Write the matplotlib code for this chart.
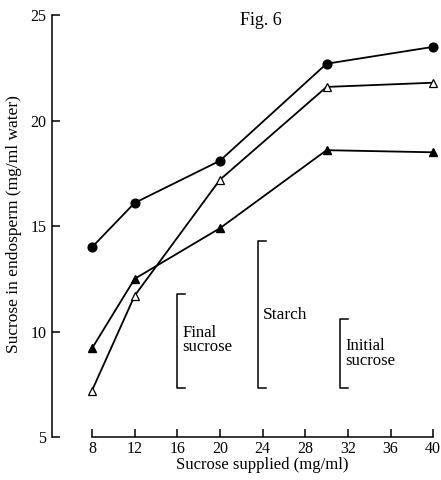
import matplotlib
matplotlib.use("Agg")
import matplotlib.pyplot as plt

supplied = [8, 12, 20, 30, 40]
circles = [14.0, 16.1, 18.1, 22.7, 23.5]
open_tri = [7.2, 11.7, 17.2, 21.6, 21.8]
filled_tri = [9.2, 12.5, 14.9, 18.6, 18.5]

xticks = [8, 12, 16, 20, 24, 28, 32, 36, 40]
yticks = [5, 10, 15, 20, 25]

# scale brackets: (x, bottom, top)
brackets = [
    (16.0, 7.3, 11.8),
    (23.6, 7.3, 14.3),
    (31.3, 7.3, 10.6),
]
bracket_labels = ["Final\nsucrose", "Starch", "Initial\nsucrose"]

plt.rcParams['font.family'] = ['Liberation Serif', 'DejaVu Serif']

fig = plt.figure(figsize=(4.41, 4.80), dpi=100)
ax = fig.add_axes([52/441, 43/480, 386/441, 426/480])

lw = 1.3
ax.plot(supplied, circles, color='black', lw=lw, marker='o', ms=6.3, mfc='black', mec='black', zorder=3)
ax.plot(supplied, open_tri, color='black', lw=lw, marker='^', ms=6.3, mfc='white', mec='black', mew=0.9, zorder=3)
ax.plot(supplied, filled_tri, color='black', lw=lw, marker='^', ms=6.3, mfc='black', mec='black', zorder=3)

serif = 0.75
for x, b, t in brackets:
    ax.plot([x + serif, x, x, x + serif], [t, t, b, b], color='black', lw=1.1)

ax.text(16.45, 9.6, bracket_labels[0], fontsize=12, va='center', ha='left', linespacing=0.9)
ax.text(24.0, 10.8, bracket_labels[1], fontsize=12.5, va='center', ha='left')
ax.text(31.75, 8.95, bracket_labels[2], fontsize=12, va='center', ha='left', linespacing=0.9)

ax.text(23.85, 24.75, "Fig. 6", fontsize=13, ha='center', va='center')

ax.set_xlim(4.25, 40.45)
ax.set_ylim(5, 25.2)
ax.spines['top'].set_visible(False)
ax.spines['right'].set_visible(False)
ax.spines['bottom'].set_bounds(8, 40)
ax.spines['left'].set_bounds(5, 25)
for s in ('bottom', 'left'):
    ax.spines[s].set_linewidth(1.1)

ax.set_xticks(xticks)
ax.set_yticks(yticks)
ax.tick_params(axis='x', direction='in', length=6, width=1.1, labelsize=11.5, pad=3)
ax.tick_params(axis='y', direction='in', length=6, width=1.1, labelsize=11.5, pad=4)

ax.set_xlabel("Sucrose supplied (mg/ml)", fontsize=12)
ax.xaxis.set_label_coords((262 - 52) / 386, -0.048)
ax.set_ylabel("Sucrose in endosperm (mg/ml water)", fontsize=12.5, labelpad=6)

fig.savefig("out.png", dpi=100)
